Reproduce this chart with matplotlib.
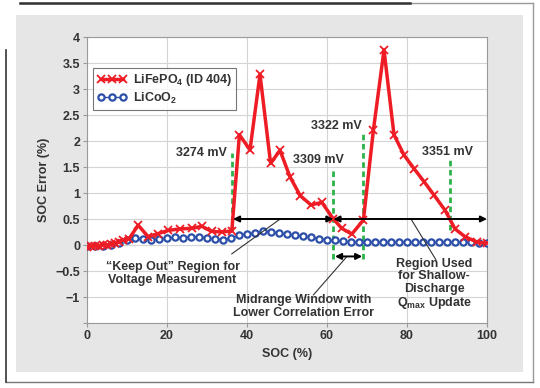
import matplotlib
matplotlib.use("Agg")
import matplotlib.pyplot as plt
from matplotlib.lines import Line2D
from matplotlib.patches import Rectangle
from matplotlib.ticker import FixedLocator, FuncFormatter
import numpy as np

plt.rcParams['font.family'] = ['Liberation Sans', 'DejaVu Sans']
plt.rcParams['font.weight'] = 'bold'
plt.rcParams['mathtext.fontset'] = 'custom'
plt.rcParams['mathtext.rm'] = 'Liberation Sans:bold'
plt.rcParams['mathtext.bf'] = 'Liberation Sans:bold'

# LiFePO4 (ID 404) SOC error
soc_fe = [0, 1, 2, 3, 4, 5, 6, 7, 8, 9, 10.5, 12.8, 15.3, 17.8, 20.3, 23.2, 26.2,
          28.7, 31.2, 33.7, 36.2, 38.1, 40.75, 43.25, 45.9, 48.25, 50.75, 53.3,
          56.0, 58.7, 61.6, 63.7, 66.2, 69.1, 71.6, 74.25, 76.75, 79.25, 81.75,
          84.25, 86.75, 89.5, 92.0, 94.5, 97.4, 100]
err_fe = [-0.03, -0.02, -0.02, -0.01, 0.0, 0.0, 0.01, 0.03, 0.06, 0.1, 0.12, 0.38,
          0.16, 0.22, 0.28, 0.31, 0.32, 0.36, 0.26, 0.25, 0.27, 2.12, 1.83, 3.28,
          1.57, 1.82, 1.31, 0.95, 0.77, 0.82, 0.5, 0.32, 0.21, 0.48, 2.21, 3.75,
          2.12, 1.73, 1.47, 1.22, 0.96, 0.67, 0.31, 0.16, 0.06, 0.03]

# LiCoO2 SOC error
soc_co = list(range(0, 101, 2))
err_co = [-0.02, -0.02, -0.01, 0.0, 0.04, 0.1, 0.13, 0.11, 0.1, 0.12, 0.13, 0.15,
          0.14, 0.16, 0.15, 0.13, 0.12, 0.1, 0.13, 0.19, 0.21, 0.24, 0.26, 0.25,
          0.23, 0.21, 0.19, 0.17, 0.15, 0.12, 0.1, 0.09, 0.07, 0.06, 0.05, 0.05,
          0.06, 0.05, 0.05, 0.06, 0.05, 0.05, 0.06, 0.05, 0.05, 0.06, 0.05, 0.05,
          0.05, 0.04, 0.03]

# voltage markers: label, soc, bottom, top, label x, label y
volt_labels = ["3274 mV", "3309 mV", "3322 mV", "3351 mV"]
volt_soc = [36.2, 61.6, 69.1, 90.7]
volt_lo = [0.27, -0.27, -0.27, 0.29]
volt_hi = [1.77, 1.47, 2.15, 1.63]
volt_tx = [28.5, 57.8, 62.3, 90.2]
volt_ty = [1.77, 1.63, 2.29, 1.78]

fig = plt.figure(figsize=(5.4, 3.88), dpi=100)
W, H = 540, 388


def px(x, y):
    return x / W, 1 - y / H


# gray panel and page frame
x0, y0 = px(16, 372)
x1, y1 = px(523, 15)
fig.add_artist(Rectangle((x0, y0), x1 - x0, y1 - y0, transform=fig.transFigure,
                         facecolor='#e6e6e6', edgecolor='none', zorder=-5))
for (xa, ya), (xb, yb), c, w in [((20, 3), (533, 3), '#9a9a9a', 1.0),
                                 ((20, 3), (410, 3), '#333333', 1.8),
                                 ((533, 3), (533, 382), '#9a9a9a', 1.0),
                                 ((6, 382), (533, 382), '#777777', 1.0),
                                 ((6, 50), (6, 382), '#333333', 1.2)]:
    pa, pb = px(xa, ya), px(xb, yb)
    fig.add_artist(Line2D([pa[0], pb[0]], [pa[1], pb[1]], transform=fig.transFigure,
                          color=c, lw=w, zorder=-4))

l, b = px(87, 323)
r, t = px(487, 37)
ax = fig.add_axes([l, b, r - l, t - b])
ax.set_zorder(1)
ax.set_facecolor('white')

ax.set_xlim(0, 100)
ax.set_ylim(-1.5, 4)
ax.set_xticks(range(0, 101, 20))
yt = np.arange(-1.5, 4.01, 0.5)
ax.yaxis.set_major_locator(FixedLocator(yt))
ax.yaxis.set_major_formatter(FuncFormatter(
    lambda v, p: '' if abs(v + 1.5) < 1e-6 else ('%g' % v).replace('-', '\u2212')))
ax.grid(True, color='#d4d4d4', lw=0.8)
ax.set_axisbelow(True)
for s in ax.spines.values():
    s.set_color('#9a9a9a')
    s.set_linewidth(0.8)
ax.tick_params(labelsize=9, colors='#333333', length=3, width=0.8, pad=2)
ax.tick_params(axis='both', color='#9a9a9a')
ax.set_xlabel('SOC (%)', fontsize=9, fontweight='bold', color='#333333', labelpad=4)
ax.set_ylabel('SOC Error (%)', fontsize=9, fontweight='bold', color='#333333', labelpad=4)

# green voltage lines and labels
for lab, s, lo, hi, tx, ty in zip(volt_labels, volt_soc, volt_lo, volt_hi, volt_tx, volt_ty):
    ax.plot([s, s], [lo, hi], color='#2db34a', lw=2, dashes=(2, 1.3), zorder=3)
    ax.text(tx, ty, lab, fontsize=9, fontweight='bold', color='#333333',
            ha='center', va='center', zorder=5)

ax.plot(soc_co, err_co, color='#2b4ea8', lw=1, marker='o', ms=4.5, mfc='white',
        mec='#2b4ea8', mew=1.6, zorder=4, label=r'LiCoO$_\mathbf{2}$')
ax.plot(soc_fe, err_fe, color='#ee1c24', lw=2.5, marker='x', ms=6, mew=1.3,
        zorder=4, label=r'LiFePO$_\mathbf{4}$ (ID 404)')

# region arrows
arrow = dict(arrowstyle='<|-|>', color='black', lw=1.4, mutation_scale=9,
             shrinkA=0, shrinkB=0)
ax.annotate('', xy=(36.5, 0.5), xytext=(61.6, 0.5), arrowprops=arrow, zorder=6)
ax.annotate('', xy=(61.6, 0.5), xytext=(100, 0.5), arrowprops=arrow, zorder=6)
ax.annotate('', xy=(62.0, -0.22), xytext=(68.8, -0.22), arrowprops=arrow, zorder=6)

# callout leaders
ax.plot([36.2, 48.3], [-0.17, 0.5], color='#333333', lw=0.8, zorder=5)
ax.plot([56.6, 65.0], [-0.96, -0.22], color='#333333', lw=0.8, zorder=5)
ax.plot([81.0, 87.2], [0.5, -0.28], color='#333333', lw=0.8, zorder=5)

ax.text(21.4, -0.55, '\u201cKeep Out\u201d Region for\nVoltage Measurement', fontsize=9,
        fontweight='bold', color='#333333', ha='center', va='center',
        linespacing=1.1, zorder=5)
ax.text(54.1, -1.18, 'Midrange Window with\nLower Correlation Error', fontsize=9,
        fontweight='bold', color='#333333', ha='center', va='center',
        linespacing=1.1, zorder=5)
ax.text(86.8, -0.76, 'Region Used\nfor Shallow-\nDischarge\nQ$_\\mathbf{max}$ Update',
        fontsize=9, fontweight='bold', color='#333333', ha='center', va='center',
        linespacing=1.05, zorder=5)

h, lb = ax.get_legend_handles_labels()
leg = ax.legend(h[::-1], lb[::-1], loc='upper left', bbox_to_anchor=(0.015, 0.89),
                fontsize=9, frameon=True, fancybox=False, edgecolor='#555555',
                handlelength=2.4, handletextpad=0.5, borderpad=0.3, numpoints=3,
                labelspacing=0.2, borderaxespad=0)
leg.get_frame().set_linewidth(0.8)
for tx in leg.get_texts():
    tx.set_color('#333333')

fig.savefig('out.png', dpi=100)
